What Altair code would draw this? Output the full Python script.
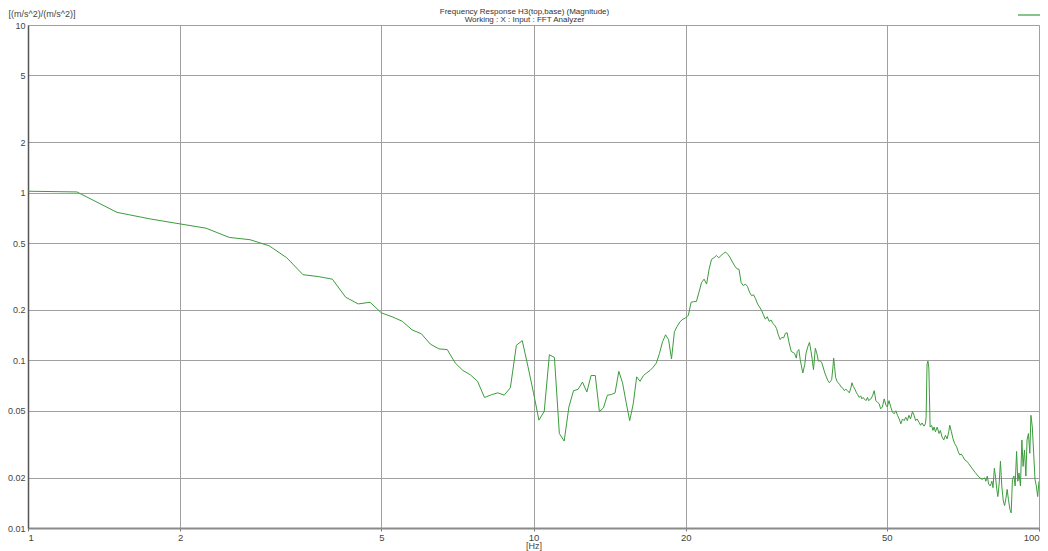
import altair as alt
import numpy as np
import pandas as pd

# FFT grid 1..32 Hz at 0.25 Hz resolution
low_freq = np.arange(1.0, 32.01, 0.25)
low_mag = [
    1.02, 1.01, 0.763, 0.696,
    0.651, 0.614, 0.541, 0.524,
    0.482, 0.409, 0.324, 0.316,
    0.305, 0.238, 0.217, 0.222,
    0.192, 0.182, 0.171, 0.152,
    0.144, 0.125, 0.117, 0.116,
    0.0965, 0.087, 0.082, 0.075,
    0.060, 0.0623, 0.064, 0.062,
    0.0686, 0.123, 0.131, 0.092,
    0.064, 0.044, 0.0495, 0.108,
    0.104, 0.0366, 0.033, 0.0527,
    0.0659, 0.0671, 0.0742, 0.0647,
    0.0812, 0.0812, 0.0494, 0.052,
    0.062, 0.0625, 0.064, 0.086,
    0.0735, 0.0561, 0.0437, 0.055,
    0.0797, 0.075, 0.0812, 0.0842,
    0.087, 0.091, 0.0965, 0.110,
    0.129, 0.142, 0.133, 0.102,
    0.148, 0.160, 0.170, 0.176,
    0.179, 0.186, 0.222, 0.224,
    0.224, 0.255, 0.291, 0.305,
    0.285, 0.349, 0.400, 0.409,
    0.422, 0.409, 0.422, 0.434,
    0.442, 0.428, 0.409, 0.386,
    0.366, 0.352, 0.349, 0.291,
    0.279, 0.285, 0.276, 0.255,
    0.243, 0.246, 0.233, 0.217,
    0.208, 0.199, 0.187, 0.176,
    0.182, 0.171, 0.174, 0.166,
    0.162, 0.155, 0.142, 0.133,
    0.137, 0.136, 0.145, 0.146,
    0.129,
]

high_freq = [
    32.35, 32.85, 33.1, 33.25, 33.5, 33.7, 34.1, 34.4, 34.6, 34.9,
    35.15, 35.4, 35.6, 35.8, 36.1, 36.35, 36.6, 36.9, 37.2, 37.45,
    37.7, 38.2, 38.5, 38.7, 38.9, 39.1, 39.25, 39.4, 39.6, 39.85,
    40.05, 40.3, 40.6, 40.9, 41.2, 41.5, 41.8, 42.15, 42.45, 42.65,
    42.9, 43.25, 43.55, 43.75, 44.1, 44.4, 44.6, 44.9, 45.1, 45.45,
    45.8, 46.0, 46.5, 46.85, 47.2, 47.4, 47.55, 47.9, 48.3, 48.6,
    49.0, 49.4, 49.8,
    50.1, 50.5, 50.9, 51.3, 51.7, 52.1, 52.5, 52.9, 53.3, 53.7,
    54.1, 54.5, 54.9, 55.3, 55.7, 56.2, 56.6, 57.0, 57.4, 57.9,
    58.3, 58.7, 59.2, 59.6, 59.8, 60.05, 60.3, 60.55, 60.9, 61.3,
    61.7, 62.0, 62.4, 62.9, 63.4, 63.8, 64.3, 64.8, 65.3, 65.8,
    66.3, 66.6, 67.1, 67.6, 68.1, 68.7, 69.2, 69.7, 70.2, 70.7,
    71.3, 72.0, 72.6, 73.7, 74.8, 76.0, 77.1, 78.1, 78.5, 79.0,
    79.5, 80.1, 80.7, 81.1, 81.6, 82.0, 82.5, 82.9, 83.4, 83.9,
    84.4, 85.0, 85.5, 86.0, 86.5, 87.0, 87.6, 88.1, 88.6, 89.2,
    89.7, 90.3, 90.8, 91.3, 91.9, 92.5, 93.0, 93.6, 94.2, 94.7,
    95.3, 95.9, 96.4, 97.0, 97.6, 98.2, 98.8, 99.4, 100.0,
]
high_mag = [
    0.113, 0.110, 0.103, 0.113, 0.116, 0.101, 0.084, 0.094, 0.110, 0.121,
    0.128, 0.113, 0.101, 0.088, 0.118, 0.110, 0.099, 0.0995, 0.0965, 0.090,
    0.084, 0.076, 0.0735, 0.075, 0.077, 0.090, 0.103, 0.092, 0.079, 0.075,
    0.0735, 0.072, 0.0694, 0.0683, 0.066, 0.0672, 0.0659, 0.064, 0.0686, 0.0735,
    0.070, 0.0672, 0.064, 0.0627, 0.0601, 0.0614, 0.0589, 0.0601, 0.0589, 0.0575,
    0.0601, 0.0575, 0.0589, 0.0614, 0.0659, 0.0614, 0.0575, 0.0562, 0.055, 0.0514,
    0.0527, 0.0589, 0.054,
    0.0527, 0.0575, 0.0527, 0.0492, 0.048, 0.050, 0.047, 0.0447, 0.0418, 0.0447,
    0.0437, 0.0458, 0.0437, 0.047, 0.0447, 0.0495, 0.047, 0.0437, 0.0447, 0.0427,
    0.041, 0.0423, 0.0405, 0.0418, 0.0458, 0.095, 0.099, 0.090, 0.040, 0.041,
    0.0382, 0.040, 0.0375, 0.040, 0.0366, 0.0382, 0.0349, 0.0335, 0.0357, 0.034,
    0.0375, 0.041, 0.0375, 0.034, 0.0319, 0.0305, 0.0286, 0.0273, 0.0276, 0.0267,
    0.0255, 0.025, 0.0242, 0.0227, 0.0214, 0.0202, 0.0195, 0.0199, 0.019, 0.0204,
    0.0183, 0.0178, 0.019, 0.0174, 0.0227, 0.0204, 0.0170, 0.0154, 0.0183, 0.025,
    0.0178, 0.0145, 0.0136, 0.015, 0.0170, 0.0148, 0.0129, 0.0123, 0.0195, 0.0204,
    0.0178, 0.0286, 0.019, 0.0213, 0.0178, 0.0335, 0.0233, 0.0292, 0.0204, 0.0335,
    0.0366, 0.0279, 0.047, 0.040, 0.0279, 0.0195, 0.0178, 0.0154, 0.019,
]

x_ticks = [1, 2, 5, 10, 20, 50, 100]
y_ticks = [0.01, 0.02, 0.05, 0.1, 0.2, 0.5, 1, 2, 5, 10]

df = pd.DataFrame({
    "freq": list(low_freq) + high_freq,
    "mag": low_mag + high_mag,
    "series": "H3(top,base)",
})

FONT = "Liberation Sans"
GREEN = "#3c9c3c"

chart = alt.Chart(df).mark_line(strokeWidth=1, clip=True).encode(
    x=alt.X(
        "freq:Q",
        scale=alt.Scale(type="log", domain=[1, 100], nice=False),
        axis=alt.Axis(
            values=x_ticks, format="~g", title="[Hz]", labelFlush=True,
            grid=True, gridColor="#a0a0a0", gridWidth=1,
            domainColor="#8a8a8a", domainWidth=2,
            ticks=True, tickSize=3, tickColor="#777",
            labelFont=FONT, labelFontSize=9.5, labelColor="#444", labelPadding=1,
            titleFont=FONT, titleFontSize=9, titleFontWeight="normal",
            titleColor="#444", titlePadding=0,
        ),
    ),
    y=alt.Y(
        "mag:Q",
        scale=alt.Scale(type="log", domain=[0.01, 10], nice=False),
        axis=alt.Axis(
            values=y_ticks, format="~g", title="[(m/s^2)/(m/s^2)]",
            grid=True, gridColor="#a0a0a0", gridWidth=1,
            domainColor="#555", domainWidth=1.5,
            ticks=False,
            labelFont=FONT, labelFontSize=9, labelColor="#444", labelPadding=3,
            titleFont=FONT, titleFontSize=9, titleFontWeight="normal",
            titleColor="#444", titleAngle=0, titleAlign="left",
            titleBaseline="top", titleX=-20, titleY=-16,
        ),
    ),
    color=alt.Color(
        "series:N",
        scale=alt.Scale(range=[GREEN]),
        legend=alt.Legend(
            orient="none", legendX=1001, legendY=-13, padding=0,
            symbolType="M-7,0H7", symbolSize=16, symbolStrokeWidth=1.2,
            labelExpr="''", labelFontSize=1, title=None,
        ),
    ),
).properties(
    width=1011,
    height=503,
    autosize=alt.AutoSizeParams(type="none"),
    padding={"left": 20, "top": 17, "right": 1, "bottom": 23},
    title=alt.TitleParams(
        text=["Frequency Response H3(top,base) (Magnitude)",
              "Working : X : Input : FFT Analyzer"],
        font=FONT, fontSize=8, fontWeight="normal", color="#333",
        anchor="middle", frame="group", offset=-15, lineHeight=8.5, dx=-9,
    ),
).configure_view(
    fill="#f3f3f3", strokeWidth=0,
).configure(background="white")

chart.save("out.html", embed_options={"renderer": "svg", "actions": False})
